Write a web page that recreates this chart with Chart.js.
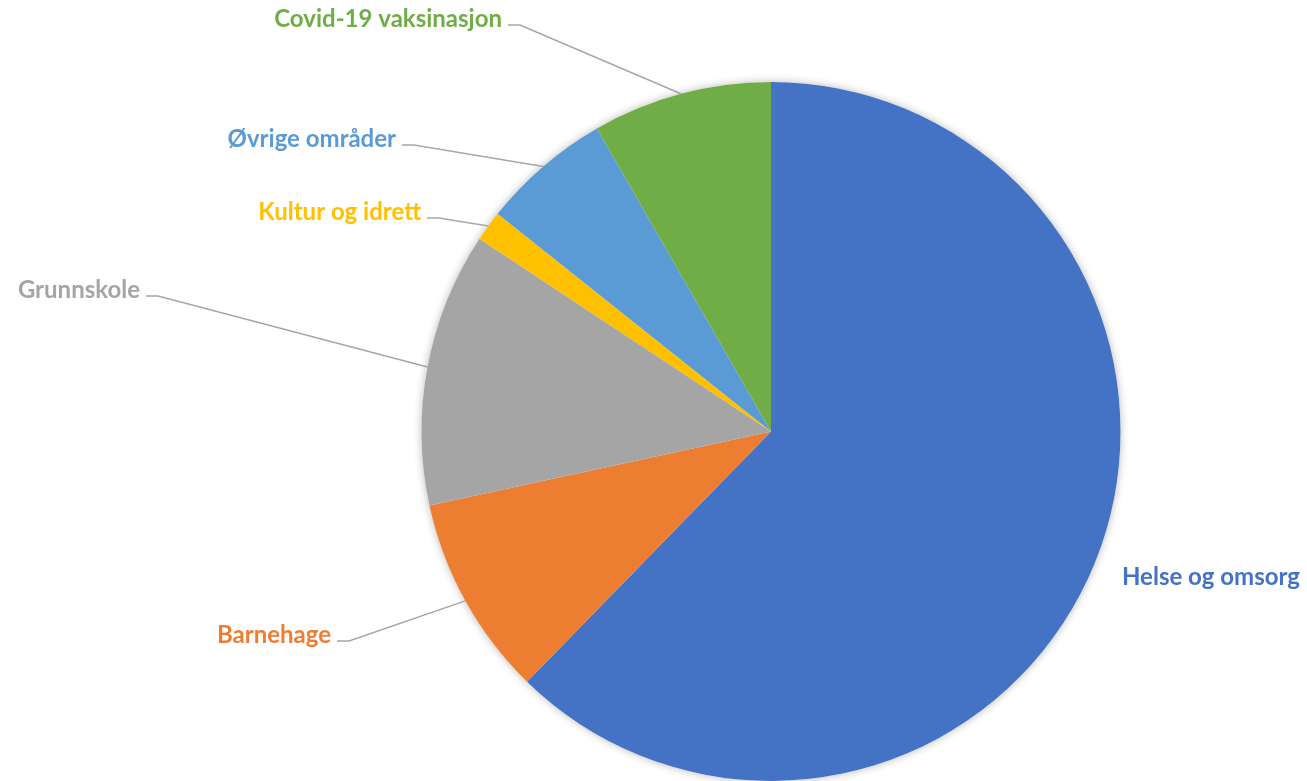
<!DOCTYPE html>
<html>
<head>
<meta charset="utf-8">
<script src="https://cdn.jsdelivr.net/npm/chart.js@4.4.0/dist/chart.umd.min.js"></script>
<style>
  html, body { margin: 0; background: #fff; }
  #wrap { width: 1307px; height: 781px; }
</style>
</head>
<body>
<div id="wrap"><canvas id="pie"></canvas></div>
<script>
// categories & shares (%), clockwise from 12 o'clock
const categories = ["Helse og omsorg", "Barnehage", "Grunnskole", "Kultur og idrett", "Øvrige områder", "Covid-19 vaksinasjon"];
const shares = [62.3, 9.3, 12.7, 1.4, 6.0, 8.3];
const colors = ["#4472C4", "#ED7D31", "#A5A5A5", "#FFC000", "#5B9BD5", "#70AD47"];

// where each label text sits (x = end of text, or start when align is left; y = baseline)
const labelSpots = [
  { x: 1122, y: 585, align: "left", leader: false },
  { x: 331, y: 643, align: "right", leader: true },
  { x: 140, y: 298, align: "right", leader: true },
  { x: 421, y: 220, align: "right", leader: true },
  { x: 396, y: 147, align: "right", leader: true },
  { x: 502, y: 27, align: "right", leader: true }
];

// soft shadow round the whole pie + outside labels with leader lines
const outLabels = {
  id: "outLabels",
  beforeDatasetsDraw(chart) {
    const arc = chart.getDatasetMeta(0).data[0];
    if (!arc) return;
    const ctx = chart.ctx;
    ctx.save();
    ctx.shadowColor = "rgba(0,0,0,0.28)";
    ctx.shadowBlur = 9;
    ctx.fillStyle = "#fff";
    ctx.beginPath();
    ctx.arc(arc.x, arc.y, arc.outerRadius, 0, Math.PI * 2);
    ctx.fill();
    ctx.restore();
  },
  afterDatasetsDraw(chart) {
    const ctx = chart.ctx;
    const meta = chart.getDatasetMeta(0);
    ctx.save();
    ctx.font = "bold 24px Lato";
    ctx.textBaseline = "alphabetic";
    meta.data.forEach((arc, i) => {
      const spot = labelSpots[i];
      if (spot.leader) {
        const mid = (arc.startAngle + arc.endAngle) / 2;
        const ex = arc.x + Math.cos(mid) * arc.outerRadius;
        const ey = arc.y + Math.sin(mid) * arc.outerRadius;
        const sx = spot.x + 6, sy = spot.y - 2;
        ctx.strokeStyle = "#a6a6a6";
        ctx.lineWidth = 1.5;
        ctx.beginPath();
        ctx.moveTo(sx, sy);
        ctx.lineTo(sx + 12, sy);
        ctx.lineTo(ex, ey);
        ctx.stroke();
      }
      ctx.fillStyle = colors[i];
      ctx.textAlign = spot.align;
      ctx.fillText(categories[i], spot.x, spot.y);
    });
    ctx.restore();
  }
};

new Chart(document.getElementById("pie"), {
  type: "pie",
  data: {
    labels: categories,
    datasets: [{
      data: shares,
      backgroundColor: colors,
      borderWidth: 0
    }]
  },
  options: {
    responsive: true,
    maintainAspectRatio: false,
    animation: false,
    layout: { padding: { left: 421, right: 186, top: 82, bottom: 0 } },
    plugins: {
      legend: { display: false },
      tooltip: { enabled: false }
    }
  },
  plugins: [outLabels]
});
</script>
</body>
</html>
